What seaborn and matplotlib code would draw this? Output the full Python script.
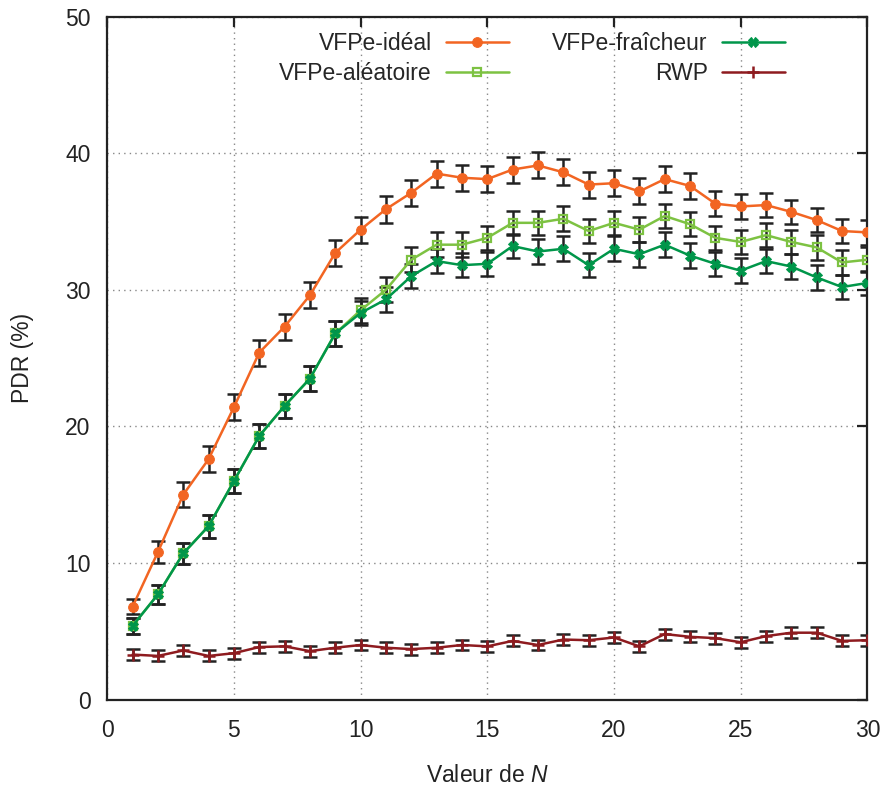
import numpy as np
import pandas as pd
import matplotlib
matplotlib.use("Agg")
import matplotlib.pyplot as plt
import seaborn as sns

# Values
n_values = list(range(1, 31))

pdr_ideal = [6.8, 10.8, 15.0, 17.6, 21.4, 25.4, 27.3, 29.6, 32.7, 34.4,
             35.9, 37.1, 38.5, 38.2, 38.1, 38.8, 39.1, 38.6, 37.7, 37.8,
             37.2, 38.1, 37.6, 36.3, 36.1, 36.2, 35.7, 35.1, 34.3, 34.2]
err_ideal = [0.55, 0.8, 0.9, 0.95, 0.95, 0.95, 0.95, 0.95, 0.95, 0.95,
             1.0, 0.95, 0.95, 0.95, 0.95, 0.95, 0.95, 0.95, 0.95, 0.95,
             0.95, 0.95, 0.95, 0.9, 0.9, 0.9, 0.9, 0.9, 0.9, 0.9]

pdr_aleatoire = [5.4, 7.7, 10.7, 12.7, 16.0, 19.3, 21.5, 23.5, 26.8, 28.5,
                 30.0, 32.2, 33.3, 33.3, 33.8, 34.9, 34.9, 35.2, 34.3, 34.9,
                 34.4, 35.4, 34.8, 33.8, 33.5, 34.0, 33.5, 33.1, 32.0, 32.2]
err_aleatoire = [0.57, 0.67, 0.8, 0.85, 0.9, 0.9, 0.9, 0.9, 0.9, 0.9,
                 0.9, 0.9, 0.9, 0.9, 0.9, 0.9, 0.9, 0.9, 0.9, 0.9,
                 0.9, 0.9, 0.9, 0.9, 0.9, 0.9, 0.9, 0.9, 0.9, 0.9]

pdr_fraicheur = [5.4, 7.7, 10.7, 12.7, 16.0, 19.3, 21.5, 23.5, 26.8, 28.3,
                 29.3, 31.0, 32.1, 31.8, 31.9, 33.2, 32.8, 33.0, 31.8, 33.0,
                 32.6, 33.3, 32.5, 31.9, 31.4, 32.1, 31.7, 30.9, 30.2, 30.5]
err_fraicheur = [0.57, 0.67, 0.8, 0.85, 0.9, 0.9, 0.9, 0.9, 0.9, 0.9,
                 0.9, 0.9, 0.9, 0.9, 0.9, 0.9, 0.9, 0.9, 0.9, 0.9,
                 0.9, 0.9, 0.9, 0.9, 0.9, 0.9, 0.9, 0.9, 0.9, 0.9]

pdr_rwp = [3.3, 3.2, 3.6, 3.2, 3.4, 3.85, 3.9, 3.55, 3.8, 4.0,
           3.8, 3.7, 3.8, 4.0, 3.9, 4.3, 4.0, 4.4, 4.35, 4.55,
           3.9, 4.8, 4.6, 4.5, 4.2, 4.65, 4.9, 4.9, 4.3, 4.35]
err_rwp = [0.4] * 30

labels = ["VFPe-idéal", "VFPe-aléatoire", "VFPe-fraîcheur", "RWP"]
colors = ["#F26522", "#7DC242", "#00964A", "#8E1B1F"]

sns.set_style("white")
plt.rcParams["font.family"] = ["Liberation Sans", "DejaVu Sans"]
plt.rcParams["mathtext.fontset"] = "custom"
plt.rcParams["mathtext.it"] = "Liberation Sans:italic"
plt.rcParams["mathtext.rm"] = "Liberation Sans"

fig = plt.figure(figsize=(8.86, 7.87), dpi=100)
ax = fig.add_axes([0.121, 0.111, 0.858, 0.868])

series = [pdr_ideal, pdr_aleatoire, pdr_fraicheur, pdr_rwp]
errors = [err_ideal, err_aleatoire, err_fraicheur, err_rwp]

# Error bars first (black), then lines + markers on top
for vals, errs in zip(series, errors):
    ax.errorbar(n_values, vals, yerr=errs, fmt="none", ecolor="#222222",
                elinewidth=1.8, capsize=5, capthick=1.8, zorder=2)

marker_styles = [
    dict(marker="o", markersize=7, markerfacecolor=colors[0], markeredgecolor=colors[0]),
    dict(marker="s", markersize=6, markerfacecolor="none", markeredgecolor=colors[1], markeredgewidth=1.6),
    dict(marker="X", markersize=7, markerfacecolor=colors[2], markeredgecolor=colors[2]),
    dict(marker="+", markersize=8, markeredgecolor=colors[3], markeredgewidth=1.8),
]

for vals, lab, col, ms in zip(series, labels, colors, marker_styles):
    df = pd.DataFrame({"N": n_values, "PDR": vals})
    sns.lineplot(data=df, x="N", y="PDR", ax=ax, color=col, linewidth=1.8,
                 label=lab, zorder=3, **ms)

ax.set_xlim(0, 30)
ax.set_ylim(0, 50)
ax.set_xticks(range(0, 31, 5))
ax.set_yticks(range(0, 51, 10))
ax.grid(True, linestyle=(0, (1, 3)), color="#888888", linewidth=1.0)
for s in ax.spines.values():
    s.set_linewidth(1.6)
    s.set_color("#222222")
ax.tick_params(direction="in", length=7, width=1.6, top=True, right=True,
               labelsize=16.5, colors="#222222")
ax.tick_params(axis="x", pad=14)
ax.tick_params(axis="y", pad=12)
ax.set_xlabel("Valeur de $\\it{N}$", fontsize=16.5, color="#222222", labelpad=16)
ax.set_ylabel("PDR (%)", fontsize=16.5, color="#222222", labelpad=22)

ax.legend(ncol=2, markerfirst=False, frameon=False, loc="upper right",
          bbox_to_anchor=(0.891, 0.977), borderaxespad=0, borderpad=0,
          fontsize=16.5, handlelength=2.75, labelspacing=0.28,
          columnspacing=1.9, handletextpad=0.6)

fig.savefig("out.png", dpi=100)
